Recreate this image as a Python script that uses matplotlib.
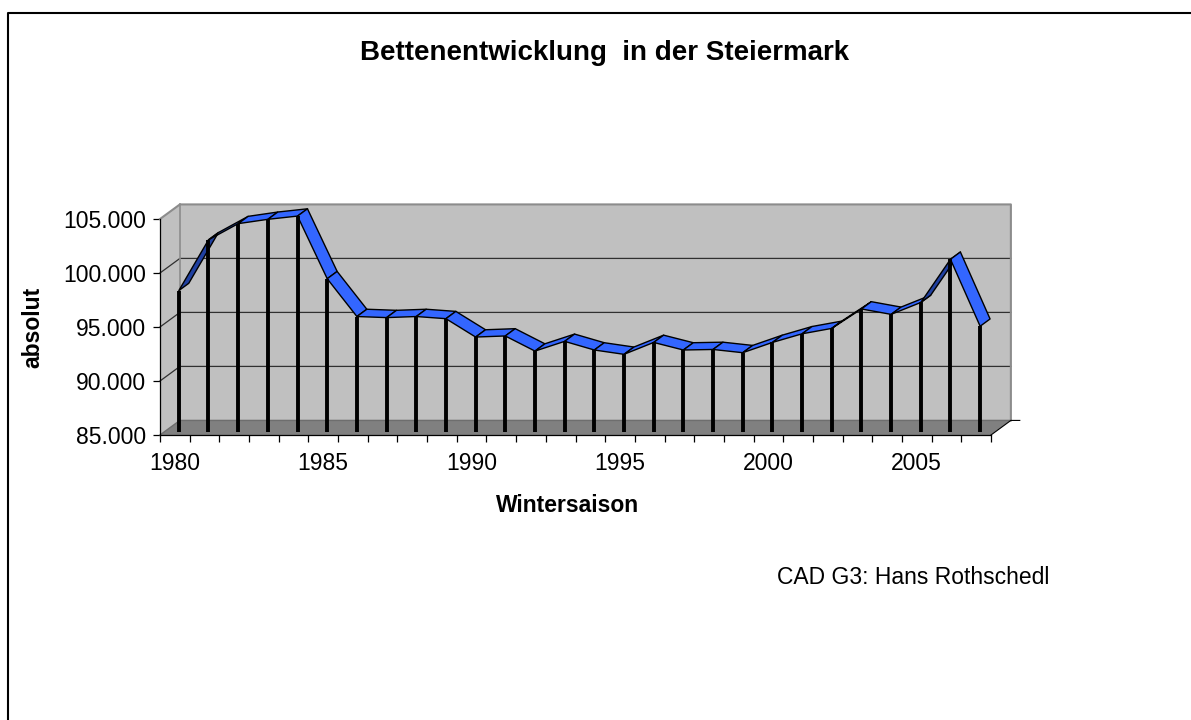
import numpy as np
import matplotlib
matplotlib.use('Agg')
import matplotlib.pyplot as plt
from matplotlib.patches import Polygon
from matplotlib.lines import Line2D

plt.rcParams['font.family'] = ['Liberation Sans', 'DejaVu Sans']

# data
years = list(range(1980, 2008))
betten = [98100, 102800, 104300, 104700, 105000, 99200, 95700, 95600, 95700, 95500,
          93800, 93900, 92500, 93400, 92600, 92200, 93300, 92600, 92650, 92350,
          93300, 94100, 94600, 96400, 95900, 97000, 101000, 94800]
y_ticks = [85000, 90000, 95000, 100000, 105000]
y_labels = ['85.000', '90.000', '95.000', '100.000', '105.000']
label_years = [1980, 1985, 1990, 1995, 2000, 2005]

W, H = 1191, 720
fig = plt.figure(figsize=(W / 100, H / 100), dpi=100)
ax = fig.add_axes([160 / W, 1 - 435 / H, 831 / W, 216 / H])
n = len(years)
ymin, ymax = y_ticks[0], y_ticks[-1]
ax.set_xlim(0, n)
ax.set_ylim(ymin, ymax)
ax.patch.set_visible(False)

# fake 3d depth, in data units
DX, DY = 0.67, 1350
F1, F2 = 0.2, 0.7

# walls and floor
side = Polygon([(0, ymin), (DX, ymin + DY), (DX, ymax + DY), (0, ymax)],
               closed=True, fc='#c0c0c0', ec='none', clip_on=False, zorder=1)
back = Polygon([(DX, ymin + DY), (n + DX, ymin + DY), (n + DX, ymax + DY), (DX, ymax + DY)],
               closed=True, fc='#c0c0c0', ec='none', clip_on=False, zorder=1)
floor = Polygon([(0, ymin), (n, ymin), (n + DX, ymin + DY), (DX, ymin + DY)],
                closed=True, fc='#808080', ec='none', clip_on=False, zorder=1)
for p in (side, back, floor):
    ax.add_patch(p)

for v in y_ticks[1:-1]:
    ax.plot([0, DX, n + DX], [v, v + DY, v + DY], color='#303030', lw=0.9,
            clip_on=False, zorder=2)
ax.plot([0, DX, n + DX, n + DX], [ymax, ymax + DY, ymax + DY, ymin + DY],
        color='#8c8c8c', lw=1.5, clip_on=False, zorder=2)
ax.plot([DX, DX], [ymin + DY, ymax + DY], color='#8c8c8c', lw=1.2, clip_on=False, zorder=2)
ax.plot([0, DX, n + DX], [ymin, ymin + DY, ymin + DY], color='#6e6e6e', lw=1.0,
        clip_on=False, zorder=2)
ax.plot([n, n + DX, n + DX + 0.3], [ymin, ymin + DY, ymin + DY], color='black', lw=0.8,
        clip_on=False, zorder=2)

# ribbon
xs = np.arange(n) + 0.5
vals = np.array(betten, dtype=float)
fx, fy = xs + F1 * DX, vals + F1 * DY
bx, by = xs + F2 * DX, vals + F2 * DY
ddx, ddy = (F2 - F1) * DX, (F2 - F1) * DY
for i in range(n - 1):
    sx, sy = fx[i + 1] - fx[i], fy[i + 1] - fy[i]
    top = sx * ddy - sy * ddx > 0
    col = '#3366ff' if top else '#2040a0'
    ax.add_patch(Polygon([(fx[i], fy[i]), (fx[i + 1], fy[i + 1]),
                          (bx[i + 1], by[i + 1]), (bx[i], by[i])],
                         closed=True, fc=col, ec='black', lw=1.0,
                         joinstyle='round', clip_on=False, zorder=3))

# drop lines
ax.vlines(fx, ymin + F1 * DY, fy, color='black', lw=2.8, clip_on=False, zorder=4)

# axes
for s in ('top', 'right'):
    ax.spines[s].set_visible(False)
for s in ('left', 'bottom'):
    ax.spines[s].set_linewidth(0.9)
    ax.spines[s].set_zorder(5)
ax.set_yticks(y_ticks)
ax.set_yticklabels(y_labels)
ax.tick_params(axis='y', direction='out', length=5, width=0.9, labelsize=16.5, pad=5)
ax.set_xticks(np.arange(n + 1))
ax.set_xticklabels([])
ax.tick_params(axis='x', which='major', direction='out', length=5, width=0.9)
ax.set_xticks([years.index(y) + 0.5 for y in label_years], minor=True)
ax.set_xticklabels([str(y) for y in label_years], minor=True)
ax.tick_params(axis='x', which='minor', length=0, labelsize=16.5, pad=12)

fig.text(605 / W, 1 - 53 / H, 'Bettenentwicklung  in der Steiermark', ha='center',
         va='center', fontsize=20, fontweight='bold')
fig.text(33 / W, 1 - 327 / H, 'absolut', rotation=90, ha='center', va='center',
         fontsize=16.5, fontweight='bold')
fig.text(568 / W, 1 - 505 / H, 'Wintersaison', ha='center', va='center',
         fontsize=16.5, fontweight='bold')
fig.text(913 / W, 1 - 577 / H, 'CAD G3: Hans Rothschedl', ha='center', va='center',
         fontsize=16.5)

# chart border (only left and top edges fall inside the image)
fig.add_artist(Line2D([8 / W, 8 / W, 1], [0, 1 - 12.5 / H, 1 - 12.5 / H],
                      color='black', lw=1.5))

fig.savefig('out.png', dpi=100, facecolor='white')
